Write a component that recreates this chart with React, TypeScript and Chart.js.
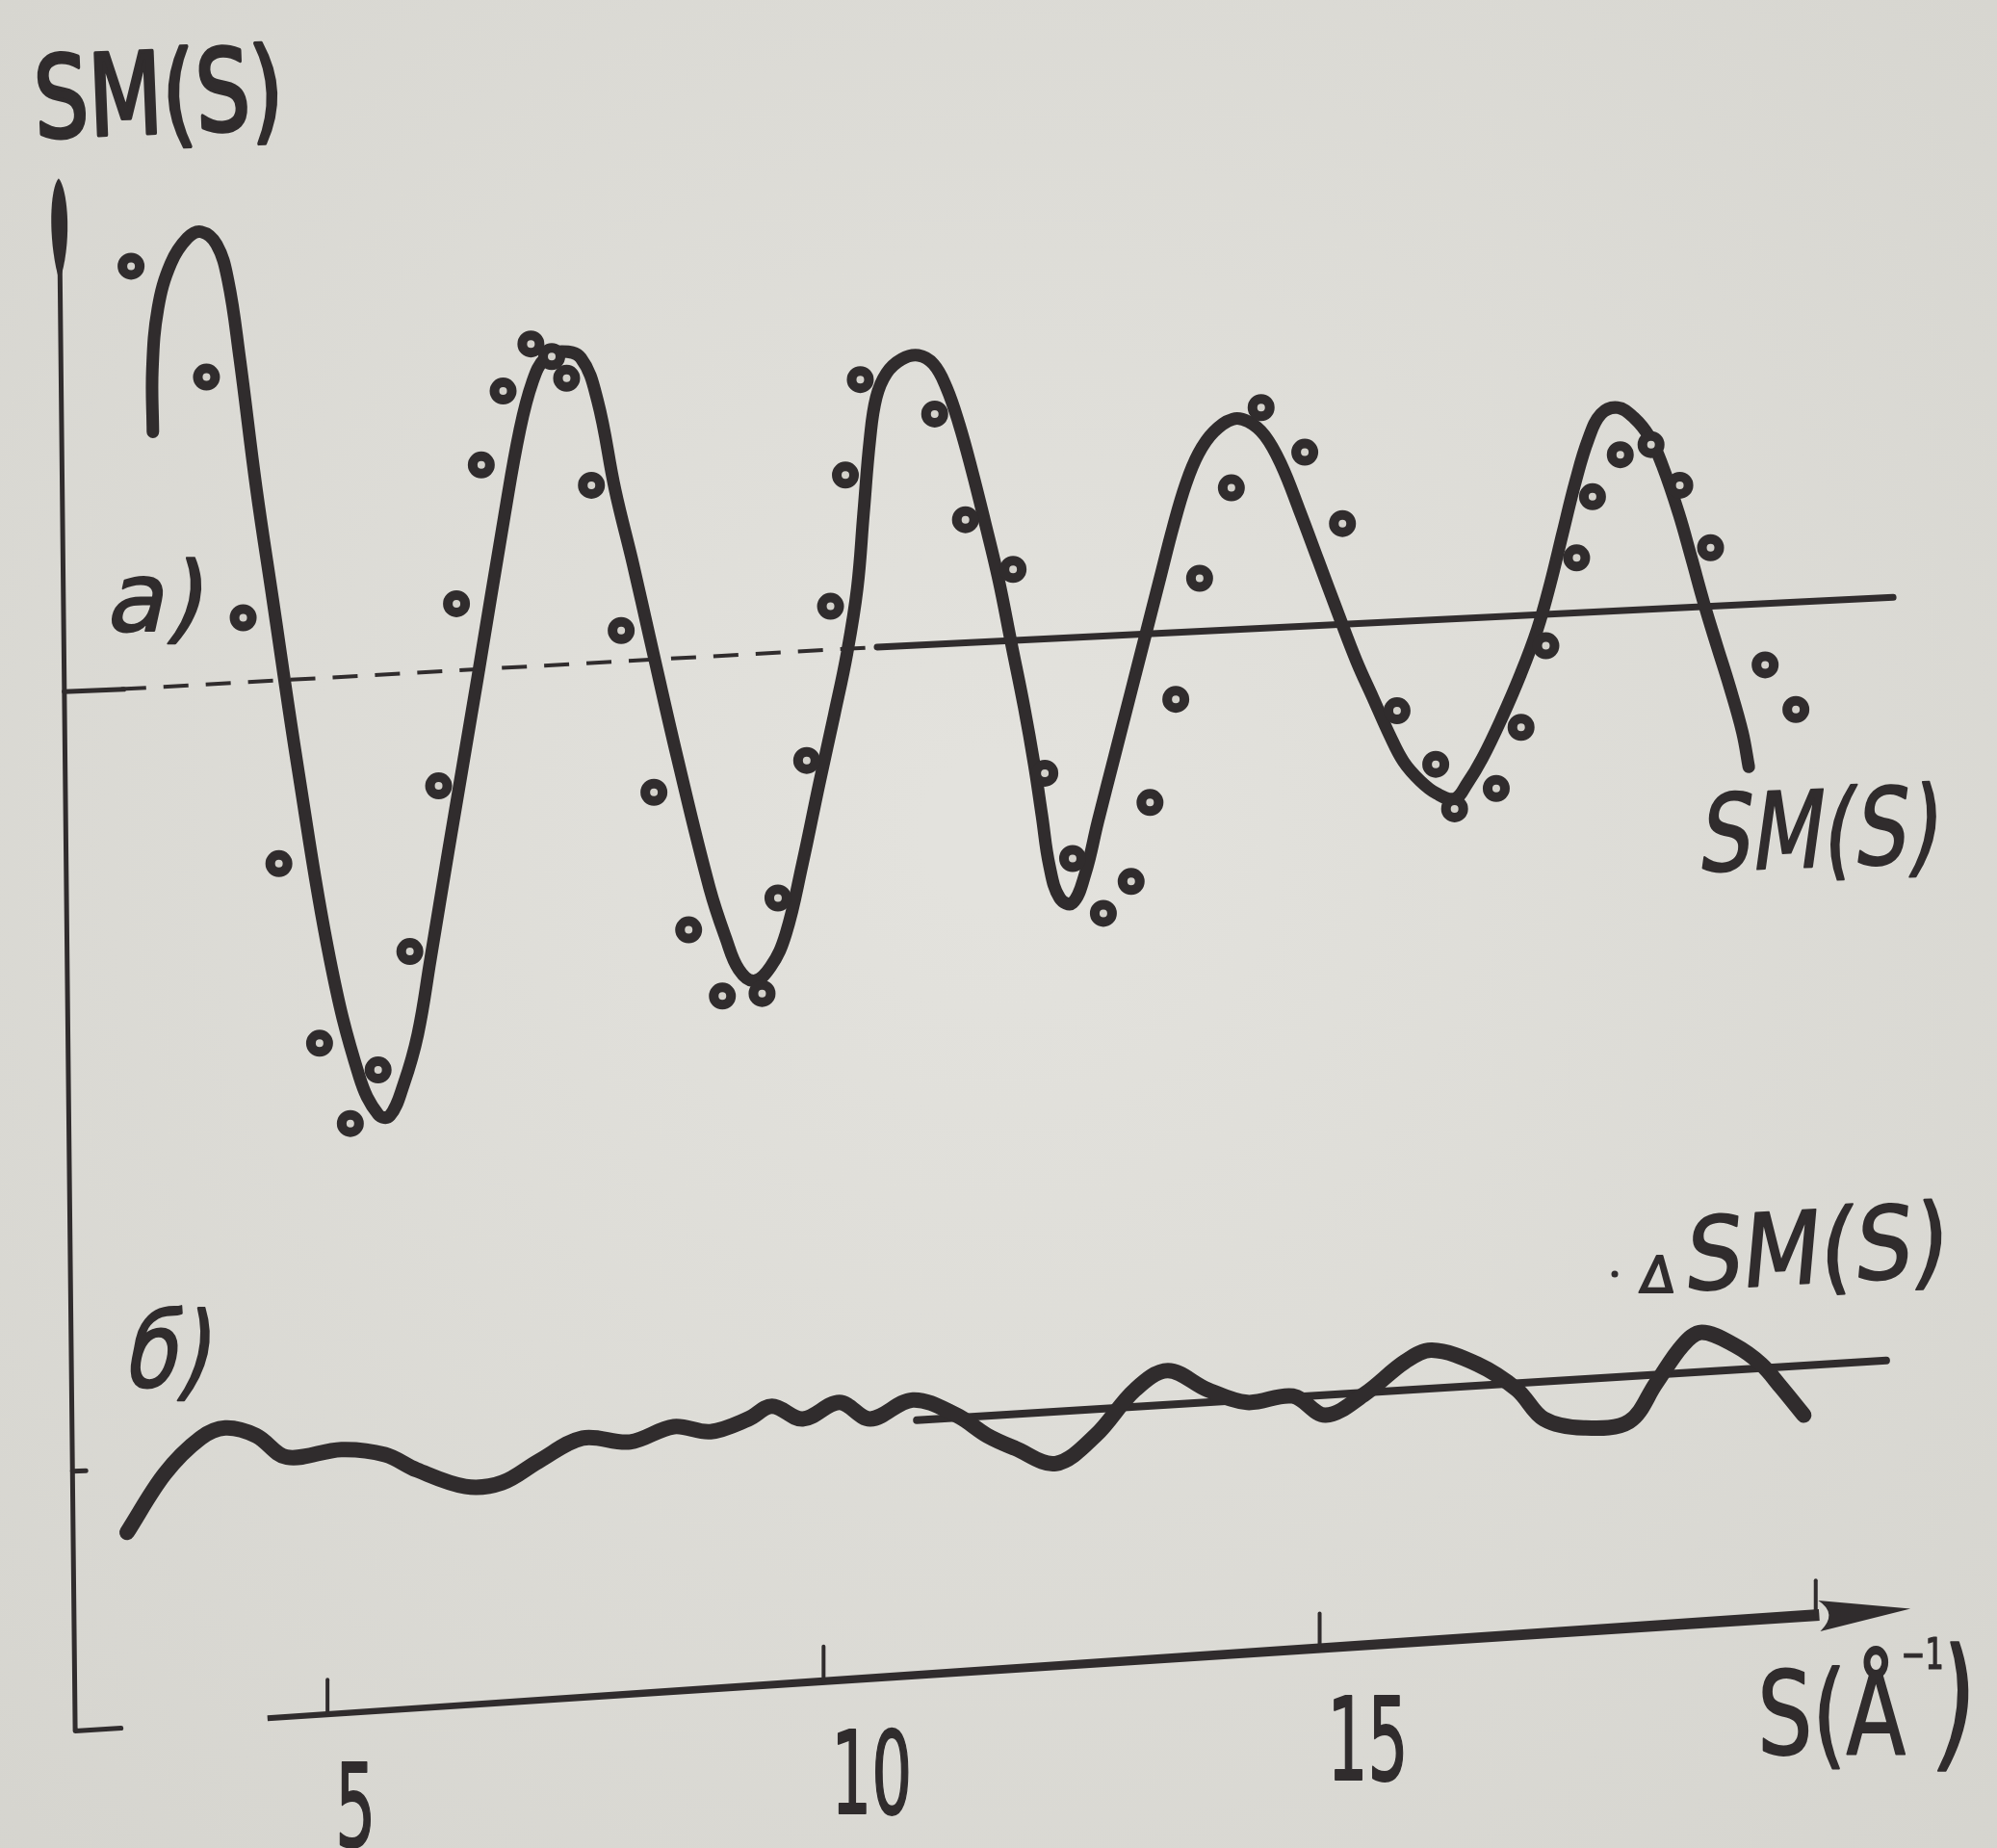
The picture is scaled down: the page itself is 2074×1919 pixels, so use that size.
import React, { useEffect, useRef } from "react";
import { Chart, registerables } from "chart.js";

Chart.register(...registerables);

const WIDTH = 2074;
const HEIGHT = 1919;

// ---------- data (S in Å⁻¹; values in the drawing's own arbitrary units) ----------
// a) fitted SM(S) curve
const smCurveS = [
  3.24, 3.235, 3.291, 3.42, 3.587, 3.728, 3.882, 3.997, 4.113, 4.28,
  4.447, 4.703, 5.024, 5.32, 5.512, 5.628, 5.769, 5.91, 6.038, 6.218,
  6.513, 6.783, 6.937, 7.065, 7.194, 7.361, 7.553, 7.72, 7.9, 8.08,
  8.246, 8.529, 8.85, 9.017, 9.145, 9.299, 9.466, 9.62, 9.787, 9.954,
  10.108, 10.236, 10.339, 10.403, 10.467, 10.531, 10.634, 10.788, 10.955, 11.109,
  11.237, 11.366, 11.494, 11.623, 11.764, 11.892, 12.021, 12.123, 12.2, 12.277,
  12.38, 12.508, 12.637, 12.765, 12.932, 13.099, 13.253, 13.394, 13.522, 13.651,
  13.779, 13.933, 14.126, 14.28, 14.447, 14.614, 14.793, 14.986, 15.178, 15.371,
  15.538, 15.705, 15.846, 16.013, 16.18, 16.36, 16.488, 16.642, 16.834, 17.027,
  17.194, 17.322, 17.451, 17.579, 17.707, 17.836, 18.003, 18.169, 18.324, 18.452,
  18.619, 18.747, 18.875, 19.004, 19.132, 19.261, 19.325,
];
const smCurveV = [
  1.61, 2.1, 2.58, 2.93, 3.13, 3.18, 3.08, 2.8, 2.2, 1.18,
  0.3, -1.04, -2.53, -3.45, -3.75, -3.76, -3.51, -3.12, -2.53, -1.68,
  -0.32, 0.95, 1.62, 2.0, 2.19, 2.24, 2.19, 1.86, 1.15, 0.57,
  0.0, -0.96, -1.97, -2.37, -2.61, -2.7, -2.59, -2.33, -1.78, -1.16,
  -0.61, -0.13, 0.38, 0.97, 1.55, 1.88, 2.07, 2.18, 2.21, 2.14,
  1.96, 1.67, 1.31, 0.91, 0.45, -0.05, -0.55, -1.0, -1.4, -1.8,
  -2.05, -2.09, -1.86, -1.45, -0.94, -0.43, 0.04, 0.47, 0.86, 1.2,
  1.44, 1.61, 1.71, 1.69, 1.58, 1.35, 1.0, 0.6, 0.2, -0.19,
  -0.48, -0.77, -0.98, -1.13, -1.23, -1.27, -1.15, -0.95, -0.64, -0.29,
  0.06, 0.41, 0.82, 1.22, 1.55, 1.75, 1.8, 1.72, 1.57, 1.35,
  0.97, 0.62, 0.26, -0.07, -0.39, -0.75, -1.02,
];

// a) experimental points (circles)
const smExpS = [
  3.02, 3.78, 4.15, 4.51, 4.92, 5.23, 5.51, 5.83, 6.12, 6.3,
  6.55, 6.77, 7.05, 7.26, 7.41, 7.66, 7.96, 8.29, 8.64, 8.98,
  9.38, 9.54, 9.83, 10.07, 10.22, 10.37, 11.12, 11.43, 11.91, 12.23,
  12.51, 12.82, 13.1, 13.29, 13.55, 13.79, 14.11, 14.41, 14.85, 15.23,
  15.78, 16.17, 16.36, 16.78, 17.03, 17.28, 17.59, 17.75, 18.03, 18.34,
  18.63, 18.94, 19.49, 19.8,
];
const smExpV = [
  2.91, 2.04, 0.15, -1.78, -3.19, -3.82, -3.4, -2.47, -1.17, 0.26,
  1.35, 1.93, 2.3, 2.2, 2.03, 1.19, 0.05, -1.22, -2.3, -2.82,
  -2.8, -2.05, -0.97, 0.24, 1.27, 2.02, 1.75, 0.92, 0.53, -1.07,
  -1.74, -2.17, -1.92, -1.3, -0.49, 0.46, 1.17, 1.8, 1.45, 0.89,
  -0.58, -1.0, -1.35, -1.19, -0.71, -0.07, 0.62, 1.1, 1.43, 1.51,
  1.19, 0.7, -0.22, -0.57,
];

// б) difference curve ΔSM(S)
const dsmCurveS = [
  2.98, 3.36, 3.72, 3.97, 4.28, 4.59, 5.14, 5.58, 5.9, 6.39,
  6.76, 7.13, 7.57, 8.05, 8.49, 8.86, 9.24, 9.48, 9.79, 10.16,
  10.47, 10.9, 11.34, 11.65, 11.93, 12.34, 12.74, 13.14, 13.47, 13.87,
  14.27, 14.73, 15.06, 15.46, 15.86, 16.13, 16.59, 16.99, 17.26, 17.66,
  18.12, 18.39, 18.66, 18.85, 19.18, 19.45, 19.65, 19.88,
];
const dsmCurveV = [
  -7.03, -6.57, -6.29, -6.21, -6.27, -6.44, -6.38, -6.42, -6.54, -6.67,
  -6.64, -6.47, -6.29, -6.32, -6.2, -6.24, -6.14, -6.04, -6.14, -6.01,
  -6.14, -5.99, -6.11, -6.27, -6.37, -6.49, -6.27, -5.91, -5.76, -5.91,
  -6.01, -5.96, -6.11, -5.94, -5.69, -5.6, -5.71, -5.91, -6.14, -6.21,
  -6.16, -5.86, -5.56, -5.46, -5.56, -5.71, -5.89, -6.11,
];

// zero lines of a) and б)
const zeroADashS = [2.92, 10.54];
const zeroADashV = [-0.41, -0.08];
const zeroASolidS = [10.54, 20.78];
const zeroASolidV = [-0.08, 0.31];
const zeroBS = [10.94, 20.71];
const zeroBV = [-6.15, -5.68];

// x axis ticks
const xTickValues = [5, 10, 15, 20];
const xTickLabels = ["5", "10", "15", ""];

// ---------- drawing configuration ----------
const X_MIN = 1.699;
const X_MAX = 21.827;
const Y_MIN = -9.508;
const Y_MAX = 5.0;

const INK = "#302c2d";
const HOLE = "#d4d2cc";

const axisGeom = {
  yTop: { x: 2.29, y: 3.6 },
  yBottom: { x: 2.457, y: -8.59 },
  yFootX: 2.919,
  yTicks: [
    { v: -0.43, len: 62 },
    { v: -6.55, len: 14 },
  ],
  xStart: { x: 4.395, y: -8.49 },
  xEnd: { x: 20.955, y: -7.63 },
};

const toXY = (xs: number[], ys: number[]) => xs.map((x, i) => ({ x, y: ys[i] }));

type TextOpts = {
  size: number;
  sx?: number;
  skew?: number;
  rot?: number;
  align?: CanvasTextAlign;
  stroke?: number;
};

function inkText(ctx: CanvasRenderingContext2D, text: string, x: number, y: number, o: TextOpts) {
  const { size, sx = 1, skew = 0, rot = 0, align = "left", stroke = 2 } = o;
  ctx.save();
  ctx.translate(x, y);
  if (rot) ctx.rotate(rot);
  if (skew) ctx.transform(1, 0, skew, 1, 0, 0);
  ctx.scale(sx, 1);
  ctx.font = `${size}px "DejaVu Sans", "Noto Sans", sans-serif`;
  ctx.textAlign = align;
  ctx.textBaseline = "alphabetic";
  ctx.fillStyle = INK;
  ctx.fillText(text, 0, 0);
  if (stroke > 0) {
    ctx.lineWidth = stroke;
    ctx.lineJoin = "round";
    ctx.strokeStyle = INK;
    ctx.strokeText(text, 0, 0);
  }
  ctx.restore();
}

const paperPlugin = {
  id: "paper",
  beforeDraw(chart: any) {
    const { ctx, width, height } = chart;
    ctx.save();
    const g = ctx.createRadialGradient(width * 0.5, height * 0.45, 80, width * 0.5, height * 0.45, width * 0.85);
    g.addColorStop(0, "#e3e2dd");
    g.addColorStop(1, "#d3d2cc");
    ctx.fillStyle = g;
    ctx.fillRect(0, 0, width, height);
    ctx.restore();
  },
};

const axesPlugin = {
  id: "handAxes",
  beforeDatasetsDraw(chart: any) {
    const { ctx } = chart;
    const xs = chart.scales.x;
    const ys = chart.scales.y;
    const P = (p: { x: number; y: number }) => ({ x: xs.getPixelForValue(p.x), y: ys.getPixelForValue(p.y) });
    ctx.save();
    ctx.strokeStyle = INK;
    ctx.fillStyle = INK;
    ctx.lineCap = "round";
    ctx.lineJoin = "round";

    // vertical axis
    const t = P(axisGeom.yTop);
    const b = P(axisGeom.yBottom);
    const footX = xs.getPixelForValue(axisGeom.yFootX);
    ctx.lineWidth = 5;
    ctx.beginPath();
    ctx.moveTo(t.x + 1, t.y + 60);
    ctx.lineTo(b.x, b.y);
    ctx.lineTo(footX, b.y - 3);
    ctx.stroke();
    // teardrop arrow head
    ctx.beginPath();
    ctx.moveTo(t.x, t.y);
    ctx.bezierCurveTo(t.x + 9, t.y + 10, t.x + 14, t.y + 60, t.x + 3, t.y + 100);
    ctx.lineTo(t.x - 1, t.y + 100);
    ctx.bezierCurveTo(t.x - 11, t.y + 60, t.x - 9, t.y + 10, t.x, t.y);
    ctx.fill();
    // ticks on the vertical axis
    axisGeom.yTicks.forEach((tk) => {
      const py = ys.getPixelForValue(tk.v);
      const f = (py - t.y) / (b.y - t.y);
      const ax = t.x + (b.x - t.x) * f;
      ctx.lineWidth = 5;
      ctx.beginPath();
      ctx.moveTo(ax, py);
      ctx.lineTo(ax + tk.len, py - tk.len * 0.04);
      ctx.stroke();
    });

    // horizontal (S) axis
    const s = P(axisGeom.xStart);
    const e = P(axisGeom.xEnd);
    const ang = Math.atan2(e.y - s.y, e.x - s.x);
    const ux = Math.cos(ang);
    const uy = Math.sin(ang);
    const nx = -uy;
    const ny = ux;
    const headLen = 95;
    const bx = e.x - ux * headLen;
    const by = e.y - uy * headLen;
    // tapered shaft
    ctx.beginPath();
    ctx.moveTo(s.x + nx * 3, s.y + ny * 3);
    ctx.lineTo(bx + nx * 6, by + ny * 6);
    ctx.lineTo(bx - nx * 6, by - ny * 6);
    ctx.lineTo(s.x - nx * 3, s.y - ny * 3);
    ctx.closePath();
    ctx.fill();
    // arrow head
    ctx.beginPath();
    ctx.moveTo(e.x, e.y);
    ctx.lineTo(bx + nx * 17, by + ny * 17);
    ctx.quadraticCurveTo(bx + ux * 20, by + uy * 20, bx - nx * 15, by - ny * 15);
    ctx.closePath();
    ctx.fill();
    // ticks + numbers
    xTickValues.forEach((v, i) => {
      const px = xs.getPixelForValue(v);
      const py = s.y + ((px - s.x) * (e.y - s.y)) / (e.x - s.x);
      ctx.lineWidth = 4;
      ctx.beginPath();
      ctx.moveTo(px, py);
      ctx.lineTo(px, py - 36);
      ctx.stroke();
      if (xTickLabels[i]) {
        inkText(ctx, xTickLabels[i], px + 8, py + 137, { size: 120, sx: 0.55, stroke: 2 });
      }
    });
    ctx.restore();
  },
  afterDatasetsDraw(chart: any) {
    const { ctx } = chart;
    const xs = chart.scales.x;
    const ys = chart.scales.y;
    const e = { x: xs.getPixelForValue(axisGeom.xEnd.x), y: ys.getPixelForValue(axisGeom.xEnd.y) };
    ctx.save();
    // axis names
    inkText(ctx, "SM(S)", 37, 143, { size: 117, sx: 0.76, rot: -0.04, stroke: 4 });
    inkText(ctx, "S(Å", e.x - 159, e.y + 150, { size: 120, sx: 0.75, stroke: 2 });
    inkText(ctx, "⁻¹", e.x - 10, e.y + 88, { size: 80, sx: 0.6, stroke: 1 });
    inkText(ctx, ")", e.x + 22, e.y + 148, { size: 150, sx: 0.7, skew: -0.1, stroke: 2 });
    // panel letters
    inkText(ctx, "а)", 108, 655, { size: 100, skew: -0.22, stroke: 2 });
    inkText(ctx, "б)", 126, 1440, { size: 108, sx: 0.82, skew: -0.22, stroke: 2 });
    // curve names
    inkText(ctx, "SM(S)", 1762, 905, { size: 110, sx: 0.78, skew: -0.18, rot: -0.04, stroke: 2 });
    inkText(ctx, "Δ", 1702, 1342, { size: 52, skew: -0.1, stroke: 2 });
    inkText(ctx, "SM(S)", 1748, 1340, { size: 104, sx: 0.9, skew: -0.15, rot: -0.06, stroke: 2 });
    ctx.fillStyle = INK;
    ctx.beginPath();
    ctx.arc(1677, 1323, 3.5, 0, Math.PI * 2);
    ctx.fill();
    ctx.restore();
  },
};

export default function App() {
  const canvasRef = useRef<HTMLCanvasElement | null>(null);

  useEffect(() => {
    const canvas = canvasRef.current;
    if (!canvas) return;
    document.body.style.margin = "0";
    document.body.style.overflow = "hidden";

    const lineBase = {
      showLine: true,
      pointRadius: 0,
      pointHoverRadius: 0,
      borderColor: INK,
      borderCapStyle: "round" as const,
      borderJoinStyle: "round" as const,
    };

    const chart = new Chart(canvas, {
      type: "scatter",
      data: {
        datasets: [
          {
            label: "SM(S) — эксперимент",
            data: toXY(smExpS, smExpV),
            showLine: false,
            pointRadius: 9,
            pointHoverRadius: 9,
            pointBorderWidth: 10,
            pointBackgroundColor: HOLE,
            pointBorderColor: INK,
            borderColor: INK,
            order: 0,
          },
          {
            ...lineBase,
            label: "SM(S)",
            data: toXY(smCurveS, smCurveV),
            borderWidth: 13,
            tension: 0.4,
            order: 1,
          },
          {
            ...lineBase,
            label: "ΔSM(S)",
            data: toXY(dsmCurveS, dsmCurveV),
            borderWidth: 16,
            tension: 0.35,
            order: 1,
          },
          {
            ...lineBase,
            label: "a) zero (dashed)",
            data: toXY(zeroADashS, zeroADashV),
            borderWidth: 4,
            borderDash: [26, 18],
            borderCapStyle: "butt" as const,
            order: 2,
          },
          {
            ...lineBase,
            label: "a) zero",
            data: toXY(zeroASolidS, zeroASolidV),
            borderWidth: 7,
            order: 2,
          },
          {
            ...lineBase,
            label: "б) zero",
            data: toXY(zeroBS, zeroBV),
            borderWidth: 8,
            order: 2,
          },
        ],
      },
      options: {
        animation: false,
        responsive: false,
        devicePixelRatio: 1,
        events: [],
        layout: { padding: 0, autoPadding: false },
        scales: {
          x: { type: "linear", min: X_MIN, max: X_MAX, display: false },
          y: { type: "linear", min: Y_MIN, max: Y_MAX, display: false },
        },
        plugins: {
          legend: { display: false },
          tooltip: { enabled: false },
          title: { display: false },
        },
      },
      plugins: [paperPlugin, axesPlugin],
    });

    return () => {
      chart.destroy();
    };
  }, []);

  return (
    <div style={{ position: "absolute", left: 0, top: 0, width: WIDTH, height: HEIGHT, overflow: "hidden" }}>
      <canvas ref={canvasRef} width={WIDTH} height={HEIGHT} style={{ display: "block", width: WIDTH, height: HEIGHT }} />
    </div>
  );
}
